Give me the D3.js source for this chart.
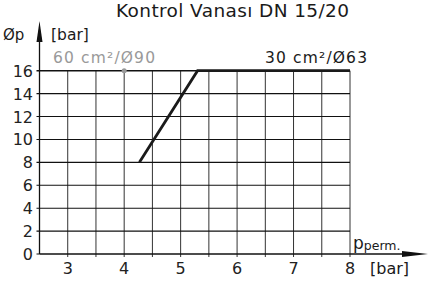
<!DOCTYPE html>
<html>
<head>
<meta charset="utf-8">
<script src="https://cdn.jsdelivr.net/npm/d3@7"></script>
<style>
  body { margin: 0; background: #fff; }
  svg { display: block; }
</style>
</head>
<body>
<div id="container"></div>
<script>
const title = 'Kontrol Vanası DN 15/20';
const xTicks = [3, 4, 5, 6, 7, 8];
const yTicks = [0, 2, 4, 6, 8, 10, 12, 14, 16];
const xGrid = [3, 3.5, 4, 4.5, 5, 5.5, 6, 6.5, 7, 7.5, 8];
const curveX = [4.27, 5.3, 8];
const curveY = [8, 16, 16];
const markX = [4];
const markY = [16];

const W = 444, H = 285;
const font = '"DejaVu Sans", sans-serif';

const svg = d3.select('#container')
    .append('svg')
    .attr('width', W)
    .attr('height', H);

const x = d3.scaleLinear().domain([2.5, 8]).range([39.5, 350]);
const y = d3.scaleLinear().domain([0, 16]).range([254, 70.7]);

// grid
const grid = svg.append('g').attr('stroke', '#333').attr('stroke-width', 1);
grid.selectAll('line.v')
    .data(xGrid)
    .enter()
    .append('line')
    .attr('x1', d => x(d))
    .attr('x2', d => x(d))
    .attr('y1', y(16))
    .attr('y2', y(0) + 3);

grid.selectAll('line.h')
    .data(yTicks.filter(d => d > 0))
    .enter()
    .append('line')
    .attr('x1', x(2.5) - 3)
    .attr('x2', x(8))
    .attr('y1', d => y(d))
    .attr('y2', d => y(d))
    .attr('stroke', '#111')
    .attr('stroke-width', d => d == 16 ? 1.6 : 1.1);

// axes
const axisColor = '#111';
svg.append('line')
    .attr('x1', x(2.5)).attr('x2', 410)
    .attr('y1', y(0)).attr('y2', y(0))
    .attr('stroke', axisColor).attr('stroke-width', 1.3);
svg.append('path')
    .attr('d', `M402,${y(0) - 3} L428,${y(0)} L402,${y(0) + 3} Z`)
    .attr('fill', axisColor);
svg.append('line')
    .attr('x1', x(2.5)).attr('x2', x(2.5))
    .attr('y1', y(0)).attr('y2', 36)
    .attr('stroke', axisColor).attr('stroke-width', 1.3);
svg.append('path')
    .attr('d', `M${x(2.5) - 3},42 L${x(2.5)},21 L${x(2.5) + 3},42 Z`)
    .attr('fill', axisColor);
svg.append('line')
    .attr('x1', x(2.5) - 3).attr('x2', x(2.5))
    .attr('y1', y(0)).attr('y2', y(0))
    .attr('stroke', axisColor).attr('stroke-width', 1);

// tick labels
svg.append('g')
    .selectAll('text')
    .data(yTicks)
    .enter()
    .append('text')
    .attr('x', 33)
    .attr('y', d => y(d) + 6)
    .attr('text-anchor', 'end')
    .attr('font-family', font)
    .attr('font-size', 16)
    .attr('fill', '#222')
    .text(d => d);

svg.append('g')
    .selectAll('text')
    .data(xTicks)
    .enter()
    .append('text')
    .attr('x', d => x(d))
    .attr('y', 274)
    .attr('text-anchor', 'middle')
    .attr('font-family', font)
    .attr('font-size', 16)
    .attr('fill', '#222')
    .text(d => d);

// curve
const line = d3.line().x(d => x(d[0])).y(d => y(d[1]));
svg.append('path')
    .datum(curveX.map((d, i) => [d, curveY[i]]))
    .attr('d', line)
    .attr('fill', 'none')
    .attr('stroke', '#1a1a1a')
    .attr('stroke-width', 2.8);

svg.selectAll('circle.mark')
    .data(markX)
    .enter()
    .append('circle')
    .attr('cx', d => x(d))
    .attr('cy', (d, i) => y(markY[i]))
    .attr('r', 2.5)
    .attr('fill', '#999');

// texts
svg.append('text')
    .attr('x', 116).attr('y', 17)
    .attr('font-family', font).attr('font-size', 18.5)
    .attr('textLength', 233).attr('fill', '#1a1a1a')
    .text(title);

svg.append('text')
    .attr('x', 3).attr('y', 40)
    .attr('font-family', font).attr('font-size', 15)
    .attr('fill', '#1a1a1a')
    .text('Øp');
svg.append('text')
    .attr('x', 51).attr('y', 40)
    .attr('font-family', font).attr('font-size', 15.5)
    .attr('fill', '#1a1a1a')
    .text('[bar]');

svg.append('text')
    .attr('x', 53).attr('y', 63)
    .attr('font-family', font).attr('font-size', 15.5)
    .attr('textLength', 102).attr('fill', '#999')
    .text('60 cm²/Ø90');
svg.append('text')
    .attr('x', 265).attr('y', 63)
    .attr('font-family', font).attr('font-size', 15.5)
    .attr('textLength', 102).attr('fill', '#1a1a1a')
    .text('30 cm²/Ø63');

const pp = svg.append('text')
    .attr('x', 353).attr('y', 249)
    .attr('font-family', font).attr('fill', '#1a1a1a');
pp.append('tspan').attr('font-size', 17).text('p');
pp.append('tspan').attr('font-size', 12.5).attr('dy', 1).text('perm.');

svg.append('text')
    .attr('x', 370).attr('y', 274)
    .attr('font-family', font).attr('font-size', 16)
    .attr('fill', '#1a1a1a')
    .text('[bar]');
</script>
</body>
</html>
